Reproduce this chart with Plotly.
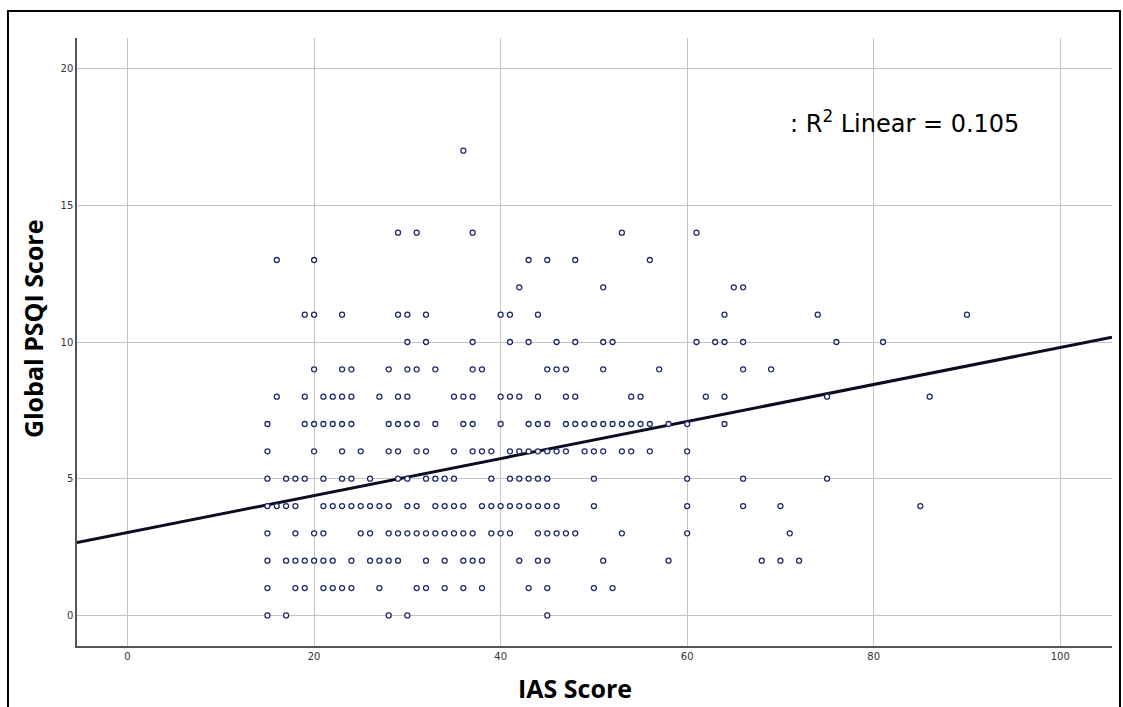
import plotly.graph_objects as go

# IAS scores observed at each Global PSQI level
psqi_levels = [0, 1, 2, 3, 4, 5, 6, 7, 8, 9, 10, 11, 12, 13, 14, 17]
ias_psqi_0 = [15, 17, 28, 30, 45]
ias_psqi_1 = [15, 18, 19, 21, 22, 23, 24, 27, 31, 32, 34, 36, 38, 43, 45, 50, 52]
ias_psqi_2 = [15, 17, 18, 19, 20, 21, 22, 24, 26, 27, 28, 29, 32, 34, 36, 37, 38, 42, 44, 45, 51, 58, 68, 70, 72]
ias_psqi_3 = [15, 18, 20, 21, 25, 26, 28, 29, 30, 31, 32, 33, 34, 35, 36, 37, 39, 40, 41, 44, 45, 46, 47, 48, 53, 60, 71]
ias_psqi_4 = [15, 16, 17, 18, 21, 22, 23, 24, 25, 26, 27, 28, 30, 31, 33, 34, 35, 36, 38, 39, 40, 41, 42, 43, 44, 45, 46, 50, 60, 66, 70, 85]
ias_psqi_5 = [15, 17, 18, 19, 21, 23, 24, 26, 29, 30, 32, 33, 34, 35, 39, 41, 42, 43, 44, 45, 50, 60, 66, 75]
ias_psqi_6 = [15, 20, 23, 25, 28, 29, 31, 32, 35, 37, 38, 39, 41, 42, 43, 44, 45, 46, 47, 49, 50, 51, 53, 54, 56, 60]
ias_psqi_7 = [15, 19, 20, 21, 22, 23, 24, 28, 29, 30, 31, 33, 36, 37, 40, 43, 44, 45, 47, 48, 49, 50, 51, 52, 53, 54, 55, 56, 58, 60, 64]
ias_psqi_8 = [16, 19, 21, 22, 23, 24, 27, 29, 30, 35, 36, 37, 40, 41, 42, 44, 47, 48, 54, 55, 62, 64, 75, 86]
ias_psqi_9 = [20, 23, 24, 28, 30, 31, 33, 37, 38, 45, 46, 47, 51, 57, 66, 69]
ias_psqi_10 = [30, 32, 37, 41, 43, 46, 48, 51, 52, 61, 63, 64, 66, 76, 81]
ias_psqi_11 = [19, 20, 23, 29, 30, 32, 40, 41, 44, 64, 74, 90]
ias_psqi_12 = [42, 51, 65, 66]
ias_psqi_13 = [16, 20, 43, 45, 48, 56]
ias_psqi_14 = [29, 31, 37, 53, 61]
ias_psqi_17 = [36]

ias_groups = [ias_psqi_0, ias_psqi_1, ias_psqi_2, ias_psqi_3, ias_psqi_4, ias_psqi_5,
              ias_psqi_6, ias_psqi_7, ias_psqi_8, ias_psqi_9, ias_psqi_10, ias_psqi_11,
              ias_psqi_12, ias_psqi_13, ias_psqi_14, ias_psqi_17]

# fit line
fit_intercept = 3.03
fit_slope = 0.0677
r2_label = ": R<sup>2</sup> Linear = 0.105"

x_ticks = [0, 20, 40, 60, 80, 100]
y_ticks = [0, 5, 10, 15, 20]
x_range = [-5.42, 105.55]
y_range = [-1.12, 21.12]

xs, ys = [], []
for lvl, grp in zip(psqi_levels, ias_groups):
    for v in grp:
        xs.append(v)
        ys.append(lvl)

fig = go.Figure()
fig.add_trace(go.Scatter(
    x=x_range,
    y=[fit_intercept + fit_slope * x_range[0], fit_intercept + fit_slope * x_range[1]],
    mode="lines", line=dict(color="#0b0b22", width=3), hoverinfo="skip", showlegend=False))
fig.add_trace(go.Scatter(
    x=xs, y=ys, mode="markers",
    marker=dict(symbol="circle", size=5, color="white",
                line=dict(color="#1c2a6b", width=1.3)),
    showlegend=False))

fig.update_layout(
    width=1123, height=707,
    margin=dict(l=77, r=11, t=38, b=61),
    paper_bgcolor="white", plot_bgcolor="white",
    font=dict(family="DejaVu Sans", color="#222"),
    xaxis=dict(range=x_range, tickvals=x_ticks, showgrid=True, gridcolor="#c4c4c4", gridwidth=1,
               zeroline=False, showline=True, linecolor="#555", linewidth=1.5,
               ticks="", tickfont=dict(size=10, color="#333")),
    yaxis=dict(range=y_range, tickvals=y_ticks, showgrid=True, gridcolor="#c4c4c4", gridwidth=1,
               zeroline=False, showline=True, linecolor="#555", linewidth=1.5,
               ticks="", tickfont=dict(size=10, color="#333")),
    shapes=[dict(type="rect", xref="paper", yref="paper",
                 x0=-0.0667, x1=1.0077, y0=-0.13, y1=1.0444,
                 line=dict(color="black", width=2), layer="below")],
    annotations=[
        dict(text=r2_label, xref="paper", yref="paper", x=0.687, y=0.862,
             xanchor="left", yanchor="middle", showarrow=False,
             font=dict(size=24, color="black", family="DejaVu Sans")),
        dict(text="<b>IAS Score</b>", xref="paper", yref="paper", x=0.481, y=-0.069,
             xanchor="center", yanchor="middle", showarrow=False,
             font=dict(size=25, color="black", family="Open Sans")),
        dict(text="<b>Global PSQI Score</b>", xref="paper", yref="paper", x=-0.043, y=0.522,
             xanchor="center", yanchor="middle", textangle=-90, showarrow=False,
             font=dict(size=25, color="black", family="Open Sans")),
    ],
)

fig.write_html("out.html")
